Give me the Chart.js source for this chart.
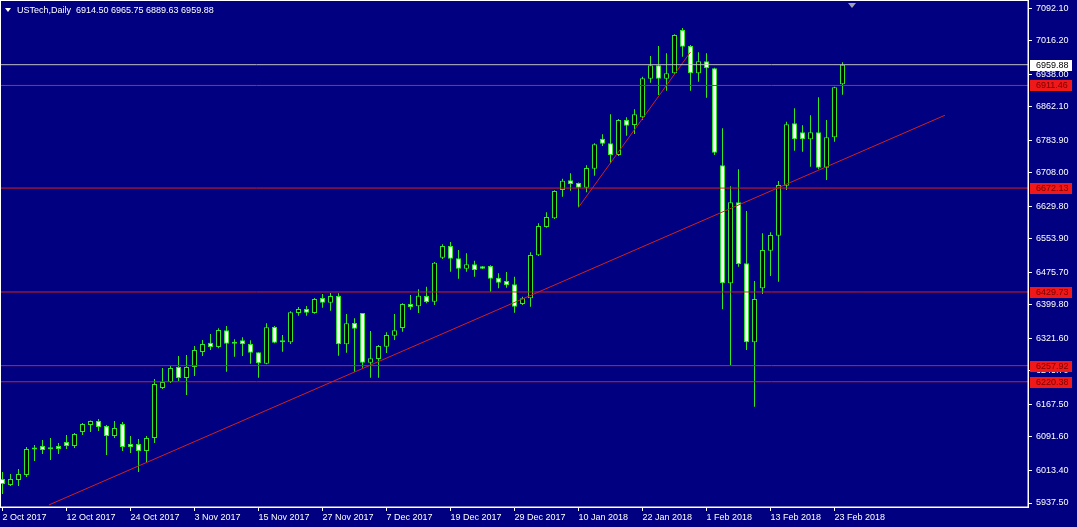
<!DOCTYPE html>
<html>
<head>
<meta charset="utf-8">
<script src="https://cdn.jsdelivr.net/npm/chart.js@4.4.0/dist/chart.umd.min.js"></script>
<style>
html, body { margin: 0; padding: 0; background: #000080; }
#wrap { width: 1077px; height: 527px; }
</style>
</head>
<body>
<div id="wrap"><canvas id="chart"></canvas></div>
<script>
// USTech daily bars, 2 Oct 2017 - 26 Feb 2018
const dates = [
  '2 Oct 2017','3 Oct 2017','4 Oct 2017','5 Oct 2017','6 Oct 2017',
  '9 Oct 2017','10 Oct 2017','11 Oct 2017','12 Oct 2017','13 Oct 2017',
  '16 Oct 2017','17 Oct 2017','18 Oct 2017','19 Oct 2017','20 Oct 2017',
  '23 Oct 2017','24 Oct 2017','25 Oct 2017','26 Oct 2017','27 Oct 2017',
  '30 Oct 2017','31 Oct 2017','1 Nov 2017','2 Nov 2017','3 Nov 2017',
  '6 Nov 2017','7 Nov 2017','8 Nov 2017','9 Nov 2017','10 Nov 2017',
  '13 Nov 2017','14 Nov 2017','15 Nov 2017','16 Nov 2017','17 Nov 2017',
  '20 Nov 2017','21 Nov 2017','22 Nov 2017','23 Nov 2017','24 Nov 2017',
  '27 Nov 2017','28 Nov 2017','29 Nov 2017','30 Nov 2017','1 Dec 2017',
  '4 Dec 2017','5 Dec 2017','6 Dec 2017','7 Dec 2017','8 Dec 2017',
  '11 Dec 2017','12 Dec 2017','13 Dec 2017','14 Dec 2017','15 Dec 2017',
  '18 Dec 2017','19 Dec 2017','20 Dec 2017','21 Dec 2017','22 Dec 2017',
  '25 Dec 2017','26 Dec 2017','27 Dec 2017','28 Dec 2017','29 Dec 2017',
  '1 Jan 2018','2 Jan 2018','3 Jan 2018','4 Jan 2018','5 Jan 2018',
  '8 Jan 2018','9 Jan 2018','10 Jan 2018','11 Jan 2018','12 Jan 2018',
  '15 Jan 2018','16 Jan 2018','17 Jan 2018','18 Jan 2018','19 Jan 2018',
  '22 Jan 2018','23 Jan 2018','24 Jan 2018','25 Jan 2018','26 Jan 2018',
  '29 Jan 2018','30 Jan 2018','31 Jan 2018','1 Feb 2018','2 Feb 2018',
  '5 Feb 2018','6 Feb 2018','7 Feb 2018','8 Feb 2018','9 Feb 2018',
  '12 Feb 2018','13 Feb 2018','14 Feb 2018','15 Feb 2018','16 Feb 2018',
  '19 Feb 2018','20 Feb 2018','21 Feb 2018','22 Feb 2018','23 Feb 2018',
  '26 Feb 2018'
];

const opens = [
  5993.5, 5979.5, 5991.2, 6002.8, 6062.3, 6070.5, 6063.5, 6070.5, 6079.8, 6070.5,
  6103.1, 6119.4, 6128.8, 6117.1, 6093.8, 6121.8, 6075.1, 6075.1, 6058.8, 6089.1,
  6205.8, 6219.7, 6254.7, 6229.1, 6254.7, 6289.7, 6311.4, 6301.4, 6340.3, 6309.1,
  6317.0, 6308.4, 6289.0, 6262.4, 6348.0, 6312.5, 6312.3, 6380.7, 6390.0, 6380.7,
  6415.7, 6404.7, 6420.3, 6307.7, 6357.4, 6380.7, 6264.8, 6273.4, 6302.1, 6327.7,
  6345.7, 6401.7, 6396.3, 6420.3, 6407.0, 6509.7, 6537.0, 6508.3, 6484.0, 6494.3,
  6489.6, 6490.3, 6463.0, 6455.3, 6447.6, 6401.7, 6415.0, 6515.3, 6581.3, 6601.6,
  6667.6, 6690.2, 6683.9, 6673.0, 6717.3, 6787.2, 6776.5, 6749.2, 6830.9, 6819.2,
  6837.2, 6927.2, 6958.4, 6927.2, 6939.8, 7040.8, 7003.5, 6939.8, 6967.8, 6951.4,
  6725.2, 6450.0, 6638.9, 6496.6, 6312.3, 6438.3, 6526.0, 6561.0, 6677.6, 6823.2,
  6802.2, 6785.8, 6802.2, 6719.6, 6790.5, 6914.50
];
const highs = [
  6009.8, 6005.2, 6016.8, 6068.1, 6072.8, 6084.5, 6089.1, 6077.5, 6096.1, 6100.8,
  6124.1, 6130.0, 6133.4, 6119.4, 6128.8, 6126.5, 6093.8, 6086.8, 6093.8, 6226.7,
  6252.4, 6257.1, 6280.4, 6282.7, 6303.7, 6317.7, 6331.7, 6345.0, 6350.4, 6319.3,
  6324.0, 6317.0, 6289.0, 6356.7, 6350.4, 6329.4, 6384.7, 6394.7, 6397.0, 6415.7,
  6425.0, 6427.3, 6426.6, 6378.4, 6368.3, 6380.7, 6338.7, 6306.1, 6335.7, 6378.4,
  6403.3, 6422.7, 6436.0, 6442.0, 6499.7, 6541.0, 6546.3, 6527.6, 6519.9, 6502.7,
  6490.3, 6492.0, 6473.3, 6476.3, 6465.3, 6418.7, 6522.3, 6589.9, 6615.6, 6666.9,
  6694.0, 6706.5, 6685.0, 6725.2, 6776.5, 6797.5, 6844.2, 6833.2, 6837.2, 6855.8,
  6931.9, 6980.1, 7003.5, 6986.4, 7031.0, 7045.4, 7005.8, 6988.8, 6986.4, 6952.8,
  6811.5, 6676.2, 6715.9, 6618.6, 6455.3, 6566.6, 6568.9, 6688.6, 6826.9, 6858.2,
  6818.5, 6841.8, 6883.8, 6830.9, 6908.5, 6965.75
];
const lows = [
  5958.5, 5977.2, 5977.2, 5998.2, 6035.5, 6051.8, 6037.8, 6051.8, 6063.5, 6065.8,
  6096.1, 6103.1, 6105.5, 6049.5, 6089.1, 6058.8, 6054.1, 6009.8, 6033.1, 6077.5,
  6203.4, 6217.4, 6222.1, 6189.4, 6233.7, 6280.4, 6294.4, 6298.4, 6243.8, 6278.7,
  6280.4, 6262.4, 6229.8, 6261.0, 6310.0, 6290.4, 6308.4, 6374.4, 6374.4, 6379.1,
  6393.0, 6386.0, 6281.1, 6288.1, 6243.8, 6253.1, 6229.8, 6229.8, 6287.4, 6317.7,
  6337.1, 6388.4, 6380.7, 6403.3, 6399.4, 6506.6, 6477.0, 6460.7, 6477.0, 6465.3,
  6483.3, 6430.4, 6438.3, 6439.7, 6381.4, 6399.4, 6395.4, 6513.6, 6579.6, 6600.0,
  6652.0, 6666.0, 6627.2, 6662.2, 6701.0, 6770.2, 6729.9, 6746.9, 6794.2, 6798.2,
  6830.9, 6917.9, 6889.2, 6899.2, 6937.5, 6978.5, 6899.2, 6920.2, 6882.9, 6749.2,
  6389.3, 6259.4, 6488.7, 6294.4, 6162.1, 6425.0, 6467.0, 6453.7, 6667.6, 6759.3,
  6757.0, 6721.9, 6715.9, 6690.9, 6780.2, 6889.63
];
const closes = [
  5981.8, 5993.5, 6005.2, 6063.5, 6063.5, 6061.1, 6063.0, 6063.5, 6070.5, 6098.5,
  6121.8, 6128.8, 6114.8, 6093.8, 6112.4, 6068.1, 6068.1, 6058.8, 6089.1, 6215.1,
  6219.7, 6252.4, 6229.1, 6254.7, 6294.4, 6308.4, 6301.4, 6341.0, 6309.1, 6310.0,
  6307.7, 6288.1, 6263.4, 6347.3, 6311.4, 6313.7, 6382.3, 6390.0, 6381.4, 6413.3,
  6404.7, 6420.3, 6307.7, 6356.7, 6344.1, 6264.8, 6275.0, 6303.7, 6329.4, 6340.3,
  6401.7, 6394.7, 6421.0, 6406.3, 6498.0, 6537.0, 6507.4, 6484.0, 6494.3, 6481.0,
  6484.0, 6460.7, 6451.3, 6445.3, 6395.4, 6415.0, 6516.0, 6583.6, 6604.6, 6665.3,
  6689.3, 6681.6, 6673.0, 6718.9, 6774.2, 6775.6, 6749.2, 6830.9, 6817.6, 6844.2,
  6928.1, 6958.4, 6927.2, 6939.8, 7029.1, 7001.8, 6939.8, 6967.8, 6951.4, 6754.6,
  6450.0, 6638.9, 6495.0, 6312.3, 6413.3, 6527.6, 6562.6, 6679.3, 6820.8, 6785.8,
  6785.8, 6802.2, 6719.6, 6790.5, 6907.1, 6959.88
];

const yTicks = [7092.10, 7016.20, 6938.00, 6862.10, 6783.90, 6708.00, 6629.80, 6553.90,
                6475.70, 6399.80, 6321.60, 6245.70, 6167.50, 6091.60, 6013.40, 5937.50];
const levels = [6911.46, 6672.13, 6429.73, 6257.92, 6220.38];
const bid = 6959.88;
// trend lines: [bar index, price] end points
const trendA = [[5.8, 5933.0], [117.8, 6842.0]];
const trendB = [[72, 6627.2], [86, 6989.5]];

const GREEN = '#2ee82e';
const NAVY = '#000080';
const LINE_RED = '#d42020';

const wickData = dates.map((d, i) => ({ x: i, y: [lows[i], highs[i]] }));
const bodyData = dates.map((d, i) => ({ x: i, y: [Math.min(opens[i], closes[i]), Math.max(opens[i], closes[i])] }));
const bodyFill = dates.map((d, i) => closes[i] >= opens[i] ? '#000000' : '#ffffff');

function flatLine(v, color) {
    return {
        type: 'line',
        data: [{ x: -2, y: v }, { x: 130, y: v }],
        borderColor: color,
        borderWidth: 1,
        pointRadius: 0,
        order: 1
    };
}
function segLine(pts) {
    return {
        type: 'line',
        data: pts.map(p => ({ x: p[0], y: p[1] })),
        borderColor: LINE_RED,
        borderWidth: 1,
        pointRadius: 0,
        order: 1
    };
}

const mt4Plugin = {
    id: 'mt4',
    beforeDraw(chart) {
        const ctx = chart.ctx;
        ctx.save();
        ctx.fillStyle = NAVY;
        ctx.fillRect(0, 0, chart.width, chart.height);
        ctx.restore();
    },
    afterDraw(chart) {
        const ctx = chart.ctx;
        const area = chart.chartArea;
        const y = chart.scales.y;
        const x = chart.scales.x;
        ctx.save();
        // frame
        ctx.strokeStyle = '#ffffff';
        ctx.lineWidth = 1;
        ctx.strokeRect(0.5, 0.5, area.right - 0.5, area.bottom - 0.5);

        // price tags on the right
        ctx.font = '9px "Liberation Sans"';
        ctx.textBaseline = 'middle';
        ctx.textAlign = 'left';
        const tag = (v, bg, fg) => {
            const py = Math.round(y.getPixelForValue(v));
            ctx.fillStyle = bg;
            ctx.fillRect(area.right + 2, py - 5, 42, 11);
            ctx.fillStyle = fg;
            ctx.fillText(v.toFixed(2), area.right + 8, py + 0.5);
        };
        levels.forEach(v => tag(v, '#f01818', '#7a0000'));
        tag(bid, '#ffffff', '#000000');

        // shift marker
        const sx = Math.round(x.getPixelForValue(106.2));
        ctx.fillStyle = '#a0a0b0';
        ctx.beginPath();
        ctx.moveTo(sx - 4, 3);
        ctx.lineTo(sx + 4, 3);
        ctx.lineTo(sx, 8);
        ctx.closePath();
        ctx.fill();

        // header
        const last = dates.length - 1;
        ctx.fillStyle = '#ffffff';
        ctx.beginPath();
        ctx.moveTo(5, 8);
        ctx.lineTo(11, 8);
        ctx.lineTo(8, 12);
        ctx.closePath();
        ctx.fill();
        ctx.font = '9px "Liberation Sans"';
        ctx.fillText('USTech,Daily  ' + [opens[last], highs[last], lows[last], closes[last]].map(v => v.toFixed(2)).join(' '), 17, 10.5);
        ctx.restore();
    }
};

Chart.defaults.font.family = '"Liberation Sans", Arial, sans-serif';
Chart.defaults.font.size = 9;

new Chart(document.getElementById('chart'), {
    type: 'bar',
    data: {
        datasets: [
            {
                label: 'wick',
                data: wickData,
                backgroundColor: GREEN,
                barThickness: 1,
                grouped: false,
                inflateAmount: 0,
                order: 3
            },
            {
                label: 'body',
                data: bodyData,
                backgroundColor: bodyFill,
                borderColor: GREEN,
                borderWidth: 1,
                borderSkipped: false,
                barThickness: 5,
                minBarLength: 2,
                grouped: false,
                inflateAmount: 0,
                order: 2
            },
            flatLine(levels[0], LINE_RED),
            flatLine(levels[1], LINE_RED),
            flatLine(levels[2], LINE_RED),
            flatLine(levels[3], LINE_RED),
            flatLine(levels[4], LINE_RED),
            flatLine(bid, '#c0c0c0'),
            segLine(trendA),
            segLine(trendB)
        ]
    },
    options: {
        responsive: true,
        maintainAspectRatio: false,
        animation: false,
        layout: { padding: 0 },
        plugins: {
            legend: { display: false },
            tooltip: { enabled: false }
        },
        scales: {
            x: {
                type: 'linear',
                position: 'bottom',
                min: -0.3125,
                max: 128.1875,
                offset: false,
                afterBuildTicks: s => {
                    s.ticks = dates.map((d, i) => i).filter(i => i % 8 === 0).map(v => ({ value: v }));
                },
                afterFit: s => {
                    s.height = 20;
                    s.paddingLeft = 0;
                    s.paddingRight = 0;
                },
                grid: { offset: false, drawOnChartArea: false, drawTicks: true, tickLength: 4, color: '#ffffff' },
                border: { color: '#ffffff' },
                ticks: {
                    color: '#ffffff',
                    align: 'start',
                    maxRotation: 0,
                    autoSkip: false,
                    padding: 1,
                    callback: v => dates[v] || ''
                }
            },
            y: {
                type: 'linear',
                position: 'right',
                min: 5928.2,
                max: 7110.8,
                afterBuildTicks: s => {
                    s.ticks = yTicks.map(v => ({ value: v }));
                },
                afterFit: s => {
                    s.width = 49;
                    s.paddingTop = 0;
                    s.paddingBottom = 0;
                },
                grid: { drawOnChartArea: false, drawTicks: true, tickLength: 4, color: '#ffffff' },
                border: { color: '#ffffff' },
                ticks: {
                    color: '#ffffff',
                    padding: 4,
                    callback: v => Number(v).toFixed(2)
                }
            }
        }
    },
    plugins: [mt4Plugin]
});
</script>
</body>
</html>
